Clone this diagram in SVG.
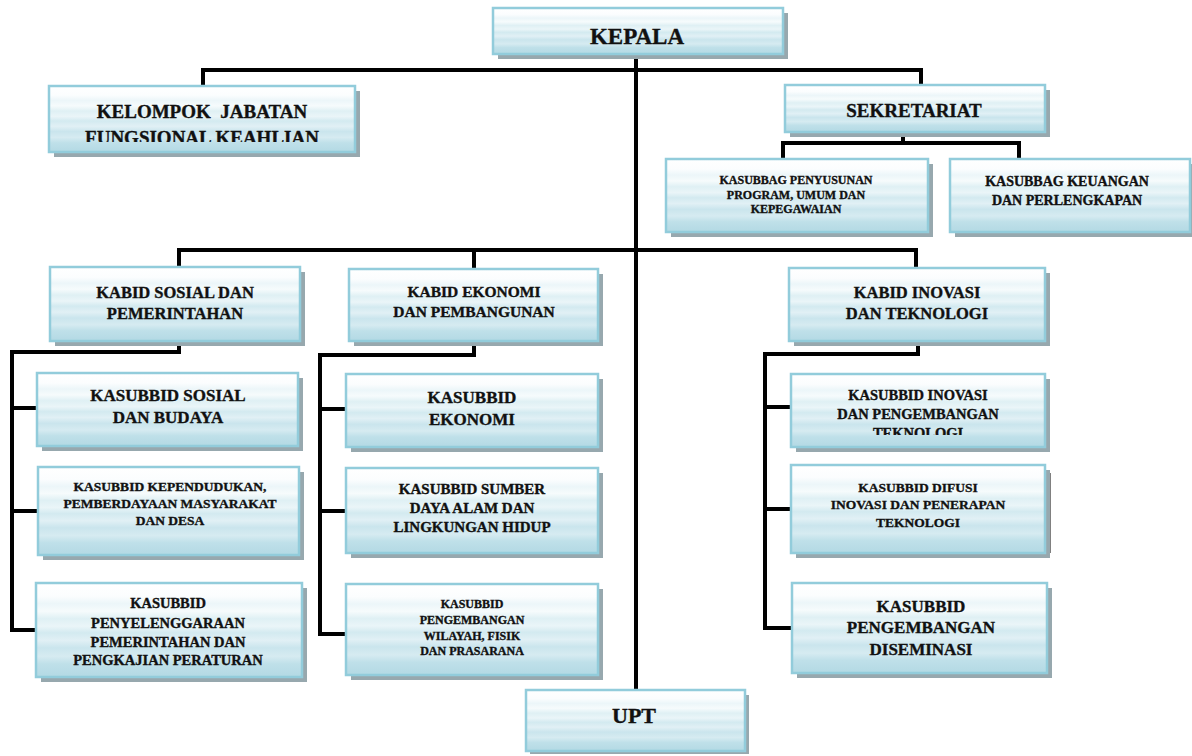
<svg xmlns="http://www.w3.org/2000/svg" width="1192" height="756" viewBox="0 0 1192 756">
<defs>
<linearGradient id="g" x1="0" y1="0" x2="0" y2="1">
<stop offset="0" stop-color="#FFFFFF"/>
<stop offset="0.14" stop-color="#FBFDFE"/>
<stop offset="0.22" stop-color="#ECF6F9"/>
<stop offset="0.3" stop-color="#F6FBFC"/>
<stop offset="0.38" stop-color="#DFF0F4"/>
<stop offset="0.46" stop-color="#EAF5F8"/>
<stop offset="0.53" stop-color="#D3EAF0"/>
<stop offset="0.61" stop-color="#E1F0F5"/>
<stop offset="0.69" stop-color="#CAE5ED"/>
<stop offset="0.78" stop-color="#D6EBF1"/>
<stop offset="0.86" stop-color="#BFE0E9"/>
<stop offset="1" stop-color="#B3D9E4"/>
</linearGradient>
<clipPath id="c1"><rect x="49" y="86" width="306" height="56"/></clipPath>
<clipPath id="c2"><rect x="791" y="374" width="254" height="61"/></clipPath>
</defs>
<style>
.sh{fill:#97A8AE}
.bx{fill:url(#g);stroke:#92CCDB;stroke-width:2.5}
text{font-family:"Liberation Serif","Times New Roman",serif;font-weight:bold;fill:#111;stroke:#111;stroke-width:0.35;text-anchor:middle}
.ln{fill:none;stroke:#000;stroke-width:4;stroke-linejoin:miter}
</style>
<g id="connectors">
<path class="ln" d="M636,55 V690"/>
<path class="ln" d="M203,86 V70 H921 V86"/>
<path class="ln" d="M903,132 V143"/>
<path class="ln" d="M783,159 V143 H1019 V159"/>
<path class="ln" d="M179,268 V250 H916 V268"/>
<path class="ln" d="M474,250 V269"/>
<path class="ln" d="M179,341 V352 H12 V630 H36"/>
<path class="ln" d="M12,408 H37"/>
<path class="ln" d="M12,511 H38"/>
<path class="ln" d="M474,341 V355 H320 V634 H346"/>
<path class="ln" d="M320,409 H346"/>
<path class="ln" d="M320,511 H346"/>
<path class="ln" d="M918,341 V354 H765 V628 H792"/>
<path class="ln" d="M765,407 H791"/>
<path class="ln" d="M765,509 H791"/>
<path class="ln" style="stroke-width:3" d="M1049,473 V553"/>
</g>
<g id="kepala">
<rect class="sh" x="498" y="13" width="290" height="46"/>
<rect class="bx" x="493" y="8" width="290" height="46"/>
<text x="637" y="44" font-size="23">KEPALA</text>
</g>
<g id="kelompok">
<rect class="sh" x="54" y="91" width="306" height="66"/>
<rect class="bx" x="49" y="86" width="306" height="66"/>
<g clip-path="url(#c1)">
<text x="202" y="118" font-size="19" xml:space="preserve">KELOMPOK  JABATAN</text>
<text x="202" y="144" font-size="19">FUNGSIONAL KEAHLIAN</text>
</g>
</g>
<g id="sekretariat">
<rect class="sh" x="790" y="90" width="260" height="47"/>
<rect class="bx" x="785" y="85" width="260" height="47"/>
<text x="914" y="117" font-size="19">SEKRETARIAT</text>
</g>
<g id="kasubbag-penyusunan">
<rect class="sh" x="671" y="164" width="262" height="73"/>
<rect class="bx" x="666" y="159" width="262" height="73"/>
<text x="796" y="184" font-size="12">KASUBBAG PENYUSUNAN</text>
<text x="796" y="199" font-size="12">PROGRAM, UMUM DAN</text>
<text x="796" y="213" font-size="12">KEPEGAWAIAN</text>
</g>
<g id="kasubbag-keuangan">
<rect class="sh" x="955" y="164" width="240" height="73"/>
<rect class="bx" x="950" y="159" width="240" height="73"/>
<text x="1067" y="186" font-size="14">KASUBBAG KEUANGAN</text>
<text x="1067" y="205" font-size="14">DAN PERLENGKAPAN</text>
</g>
<g id="kabid-sosial">
<rect class="sh" x="55" y="272" width="250" height="74"/>
<rect class="bx" x="50" y="267" width="250" height="74"/>
<text x="175" y="298" font-size="16.5">KABID SOSIAL DAN</text>
<text x="175" y="319" font-size="16.5">PEMERINTAHAN</text>
</g>
<g id="kabid-ekonomi">
<rect class="sh" x="354" y="274" width="249" height="72"/>
<rect class="bx" x="349" y="269" width="249" height="72"/>
<text x="474" y="297" font-size="15.5">KABID EKONOMI</text>
<text x="474" y="317" font-size="15.5">DAN PEMBANGUNAN</text>
</g>
<g id="kabid-inovasi">
<rect class="sh" x="794" y="273" width="256" height="73"/>
<rect class="bx" x="789" y="268" width="256" height="73"/>
<text x="917" y="298" font-size="16.5">KABID INOVASI</text>
<text x="917" y="319" font-size="16.5">DAN TEKNOLOGI</text>
</g>
<g id="kasubbid-sosial">
<rect class="sh" x="42" y="378" width="261" height="73"/>
<rect class="bx" x="37" y="373" width="261" height="73"/>
<text x="168" y="401" font-size="17">KASUBBID SOSIAL</text>
<text x="168" y="423" font-size="17">DAN BUDAYA</text>
</g>
<g id="kasubbid-kependudukan">
<rect class="sh" x="43" y="472" width="261" height="88"/>
<rect class="bx" x="38" y="467" width="261" height="88"/>
<text x="170" y="491" font-size="13.5">KASUBBID KEPENDUDUKAN,</text>
<text x="170" y="508" font-size="13.5">PEMBERDAYAAN MASYARAKAT</text>
<text x="170" y="525" font-size="13.5">DAN DESA</text>
</g>
<g id="kasubbid-penyelenggaraan">
<rect class="sh" x="41" y="588" width="266" height="94"/>
<rect class="bx" x="36" y="583" width="266" height="94"/>
<text x="168" y="608" font-size="14.5">KASUBBID</text>
<text x="168" y="628" font-size="14.5">PENYELENGGARAAN</text>
<text x="168" y="647" font-size="14.5">PEMERINTAHAN DAN</text>
<text x="168" y="665" font-size="14.5">PENGKAJIAN PERATURAN</text>
</g>
<g id="kasubbid-ekonomi">
<rect class="sh" x="351" y="379" width="252" height="73"/>
<rect class="bx" x="346" y="374" width="252" height="73"/>
<text x="472" y="403" font-size="17">KASUBBID</text>
<text x="472" y="425" font-size="17">EKONOMI</text>
</g>
<g id="kasubbid-sumber">
<rect class="sh" x="351" y="473" width="252" height="85"/>
<rect class="bx" x="346" y="468" width="252" height="85"/>
<text x="472" y="494" font-size="15">KASUBBID SUMBER</text>
<text x="472" y="513" font-size="15">DAYA ALAM DAN</text>
<text x="472" y="532" font-size="15">LINGKUNGAN HIDUP</text>
</g>
<g id="kasubbid-wilayah">
<rect class="sh" x="351" y="589" width="252" height="91"/>
<rect class="bx" x="346" y="584" width="252" height="91"/>
<text x="472" y="608" font-size="12">KASUBBID</text>
<text x="472" y="624" font-size="12">PENGEMBANGAN</text>
<text x="472" y="640" font-size="12">WILAYAH, FISIK</text>
<text x="472" y="655" font-size="12">DAN PRASARANA</text>
</g>
<g id="kasubbid-inovasi">
<rect class="sh" x="796" y="379" width="254" height="73"/>
<rect class="bx" x="791" y="374" width="254" height="73"/>
<g clip-path="url(#c2)">
<text x="918" y="400" font-size="14.5">KASUBBID INOVASI</text>
<text x="918" y="419" font-size="14.5">DAN PENGEMBANGAN</text>
<text x="918" y="438" font-size="14.5">TEKNOLOGI</text>
</g>
</g>
<g id="kasubbid-difusi">
<rect class="sh" x="796" y="470" width="254" height="88"/>
<rect class="bx" x="791" y="465" width="254" height="88"/>
<text x="918" y="492" font-size="13.5">KASUBBID DIFUSI</text>
<text x="918" y="509" font-size="13.5">INOVASI DAN PENERAPAN</text>
<text x="918" y="527" font-size="13.5">TEKNOLOGI</text>
</g>
<g id="kasubbid-diseminasi">
<rect class="sh" x="797" y="588" width="255" height="90"/>
<rect class="bx" x="792" y="583" width="255" height="90"/>
<text x="921" y="612" font-size="17">KASUBBID</text>
<text x="921" y="633" font-size="17">PENGEMBANGAN</text>
<text x="921" y="655" font-size="17">DISEMINASI</text>
</g>
<g id="upt">
<rect class="sh" x="530" y="695" width="219" height="59"/>
<rect class="bx" x="526" y="690" width="219" height="61"/>
<text x="634" y="723" font-size="22">UPT</text>
</g>
</svg>
